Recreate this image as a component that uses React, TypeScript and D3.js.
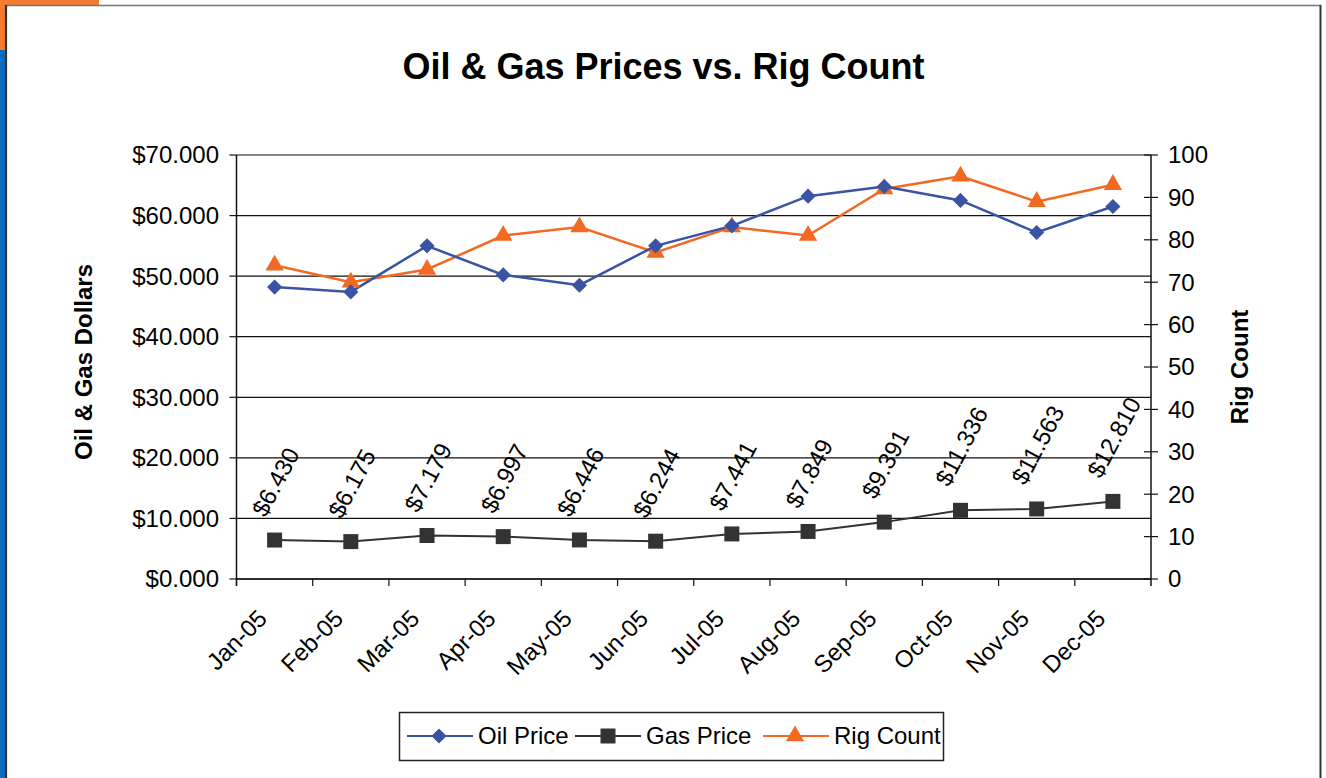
import React from "react";
import * as d3 from "d3";

const months = ["Jan-05", "Feb-05", "Mar-05", "Apr-05", "May-05", "Jun-05", "Jul-05", "Aug-05", "Sep-05", "Oct-05", "Nov-05", "Dec-05"];
const oilPrice = [48.2, 47.4, 55.0, 50.2, 48.5, 55.0, 58.3, 63.2, 64.8, 62.5, 57.2, 61.5];
const gasPrice = [6.43, 6.175, 7.179, 6.997, 6.446, 6.244, 7.441, 7.849, 9.391, 11.336, 11.563, 12.81];
const rigCount = [74, 70, 73, 81, 83, 77, 83, 81, 92, 95, 89, 93];
const leftTicks = [0, 10, 20, 30, 40, 50, 60, 70];
const rightTicks = [0, 10, 20, 30, 40, 50, 60, 70, 80, 90, 100];
const seriesNames = ["Oil Price", "Gas Price", "Rig Count"];

const W = 1326;
const H = 778;
const FONT = "'Liberation Sans', Arial, Helvetica, sans-serif";
const OIL = "#3A53A4";
const GAS = "#333333";
const RIG = "#F26A22";

const plot = { left: 236.5, right: 1151, top: 155, bottom: 579 };

export default function App() {
  const x = d3.scaleBand<string>().domain(months).range([plot.left, plot.right]);
  const cx = (m: string) => (x(m) as number) + x.bandwidth() / 2;
  const yL = d3.scaleLinear().domain([0, 70]).range([plot.bottom, plot.top]);
  const yR = d3.scaleLinear().domain([0, 100]).range([plot.bottom, plot.top]);

  const oilLine = d3.line<number>().x((_, i) => cx(months[i])).y((d) => yL(d));
  const gasLine = d3.line<number>().x((_, i) => cx(months[i])).y((d) => yL(d));
  const rigLine = d3.line<number>().x((_, i) => cx(months[i])).y((d) => yR(d));

  const diamond = d3.symbol().type(d3.symbolSquare).size(115)();
  const square = d3.symbol().type(d3.symbolSquare).size(225)();
  const triangle = d3.symbol().type(d3.symbolTriangle).size(145)();

  const fs = 24;
  const labelAngle = 62;
  const rad = (labelAngle * Math.PI) / 180;
  const labelText = (v: number) => "$" + d3.format(".3f")(v);
  const estLen = (s: string) => {
    let w = 0;
    for (const ch of s) w += ch === "." ? 0.278 : 0.556;
    return w * fs;
  };

  const legendItems = [
    { name: seriesNames[0], color: OIL, marker: "diamond", x: 407 },
    { name: seriesNames[1], color: GAS, marker: "square", x: 575 },
    { name: seriesNames[2], color: RIG, marker: "triangle", x: 763 },
  ];

  return (
    <svg
      width={W}
      height={H}
      style={{ position: "absolute", left: 0, top: 0, background: "#fff" }}
      fontFamily={FONT}
    >
      {/* frame */}
      <rect x={0} y={0} width={W} height={H} fill="#fff" />
      <rect x={0} y={0} width={99} height={5} fill="#F47B30" />
      <rect x={0} y={0} width={5} height={50} fill="#F47B30" />
      <rect x={0} y={50} width={5} height={H - 50} fill="#0B6BBE" />
      <line x1={5} y1={5.5} x2={1321} y2={5.5} stroke="#777" strokeWidth={1.5} />
      <line x1={6} y1={5} x2={6} y2={H} stroke="#333" strokeWidth={2.2} />
      <line x1={1320.5} y1={5} x2={1320.5} y2={H} stroke="#333" strokeWidth={2} />

      {/* title */}
      <text x={663.5} y={79} textAnchor="middle" fontSize={36} fontWeight="bold" fill="#000">
        Oil &amp; Gas Prices vs. Rig Count
      </text>

      {/* gridlines */}
      {leftTicks.map((t) => (
        <line key={"g" + t} x1={plot.left} x2={plot.right} y1={yL(t)} y2={yL(t)} stroke="#111" strokeWidth={1.2} />
      ))}

      {/* left axis */}
      <line x1={plot.left} x2={plot.left} y1={plot.top} y2={plot.bottom + 7} stroke="#111" strokeWidth={1.5} />
      {leftTicks.map((t) => (
        <g key={"lt" + t}>
          <line x1={plot.left - 7} x2={plot.left} y1={yL(t)} y2={yL(t)} stroke="#111" strokeWidth={1.2} />
          <text x={219} y={yL(t)} dy="0.35em" textAnchor="end" fontSize={fs} fill="#000">
            {"$" + d3.format(".3f")(t)}
          </text>
        </g>
      ))}

      {/* right axis */}
      <line x1={plot.right} x2={plot.right} y1={plot.top} y2={plot.bottom + 7} stroke="#111" strokeWidth={1.5} />
      {rightTicks.map((t) => (
        <g key={"rt" + t}>
          <line x1={plot.right - 7} x2={plot.right + 7} y1={yR(t)} y2={yR(t)} stroke="#111" strokeWidth={1.2} />
          <text x={1168} y={yR(t)} dy="0.35em" textAnchor="start" fontSize={fs} fill="#000">
            {t}
          </text>
        </g>
      ))}

      {/* bottom axis */}
      <line x1={plot.left} x2={plot.right} y1={plot.bottom} y2={plot.bottom} stroke="#111" strokeWidth={1.5} />
      {months.map((m) => (
        <line key={"bt" + m} x1={x(m) as number} x2={x(m) as number} y1={plot.bottom} y2={plot.bottom + 7} stroke="#111" strokeWidth={1.2} />
      ))}
      {months.map((m) => (
        <text
          key={"bl" + m}
          transform={`translate(${cx(m) - 12},${614}) rotate(-45)`}
          dy="0.35em"
          textAnchor="end"
          fontSize={fs}
          fill="#000"
        >
          {m}
        </text>
      ))}

      {/* axis titles */}
      <text transform={`translate(${92},${362}) rotate(-90)`} textAnchor="middle" fontSize={fs} fontWeight="bold" fill="#000">
        Oil &amp; Gas Dollars
      </text>
      <text transform={`translate(${1248},${367}) rotate(-90)`} textAnchor="middle" fontSize={fs} fontWeight="bold" fill="#000">
        Rig Count
      </text>

      {/* series lines */}
      <path d={gasLine(gasPrice) as string} fill="none" stroke={GAS} strokeWidth={2} />
      <path d={rigLine(rigCount) as string} fill="none" stroke={RIG} strokeWidth={2.5} />
      <path d={oilLine(oilPrice) as string} fill="none" stroke={OIL} strokeWidth={2.5} />

      {/* markers */}
      {gasPrice.map((v, i) => (
        <path key={"gm" + i} d={square as string} transform={`translate(${cx(months[i])},${yL(v)})`} fill={GAS} />
      ))}
      {rigCount.map((v, i) => (
        <path key={"rm" + i} d={triangle as string} transform={`translate(${cx(months[i])},${yR(v)})`} fill={RIG} />
      ))}
      {oilPrice.map((v, i) => (
        <path key={"om" + i} d={diamond as string} transform={`translate(${cx(months[i])},${yL(v)}) rotate(45)`} fill={OIL} />
      ))}

      {/* gas data labels */}
      {gasPrice.map((v, i) => {
        const s = labelText(v);
        const L = estLen(s);
        const off = 22 + (L / 2) * Math.sin(rad) + 8 * Math.cos(rad);
        return (
          <text
            key={"dl" + i}
            transform={`translate(${cx(months[i]) + 1},${yL(v) - off}) rotate(${-labelAngle})`}
            dy="0.35em"
            textAnchor="middle"
            fontSize={fs}
            fill="#000"
          >
            {s}
          </text>
        );
      })}

      {/* legend */}
      <rect x={399.5} y={712.5} width={544} height={48} fill="#fff" stroke="#222" strokeWidth={1.5} />
      {legendItems.map((it) => (
        <g key={it.name}>
          <line x1={it.x} x2={it.x + 66} y1={736} y2={736} stroke={it.color} strokeWidth={2} />
          {it.marker === "diamond" && (
            <path d={diamond as string} transform={`translate(${it.x + 32},736) rotate(45)`} fill={it.color} />
          )}
          {it.marker === "square" && (
            <path d={square as string} transform={`translate(${it.x + 33},736)`} fill={it.color} />
          )}
          {it.marker === "triangle" && (
            <path d={triangle as string} transform={`translate(${it.x + 32},736)`} fill={it.color} />
          )}
          <text x={it.x + 71} y={736} dy="0.35em" fontSize={fs} fill="#000">
            {it.name}
          </text>
        </g>
      ))}
    </svg>
  );
}
